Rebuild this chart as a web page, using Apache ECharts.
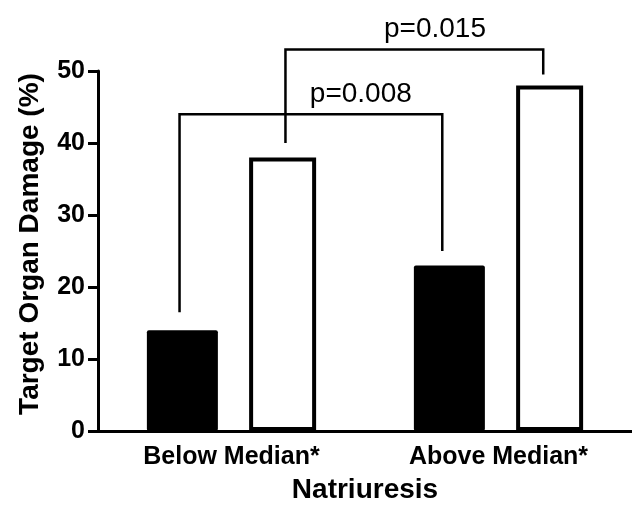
<!DOCTYPE html>
<html>
<head>
<meta charset="utf-8">
<script src="https://cdn.jsdelivr.net/npm/echarts@6/dist/echarts.min.js"></script>
<style>html,body{margin:0;padding:0;background:#fff}#c{width:632px;height:513px}</style>
</head>
<body>
<div id="c"></div>
<script>
// ---- data ----
const categories = ['Below Median*', 'Above Median*'];
const blackValues = [14, 23];
const whiteValues = [38, 48];
const yTicks = [0, 10, 20, 30, 40, 50];
// bracket ends: [category, series (0 black, 1 white), leg bottom value, position across bar (-0.5..0.5)]
const bracketFrom = [[0, 0, 16.5, -0.04], [0, 1, 40, 0.04]];
const bracketTo = [[1, 0, 25, -0.1], [1, 1, 49.5, -0.09]];
const bracketY = [44, 53];
const bracketLabels = ['p=0.008', 'p=0.015'];

// ---- style ----
const FONT = '"Liberation Sans", Arial, Helvetica, sans-serif';
const BLACK_W = 71, WHITE_W = 67, GAP = 0.44;
const WIDTHS = [BLACK_W, WHITE_W + 4];
const LABEL_FRAC = [0.69, 0.58];

// replicate ECharts bar offset layout to find bar centres relative to category centre
function barCenterOffsets() {
  const widths = [BLACK_W, WHITE_W];
  let sum = 0;
  widths.forEach(w => sum += w * (1 + GAP));
  sum -= widths[widths.length - 1] * GAP;
  let off = -sum / 2;
  const centers = [];
  widths.forEach(w => { centers.push(off + w / 2); off += w * (1 + GAP); });
  return centers;
}
const centers = barCenterOffsets();

const chart = echarts.init(document.getElementById('c'), null, {renderer: 'canvas'});
chart.setOption({
  animation: false,
  backgroundColor: '#fff',
  grid: {left: 98, right: 0, top: 71, bottom: 82},
  xAxis: {
    type: 'category',
    data: categories,
    name: 'Natriuresis',
    nameLocation: 'middle',
    nameGap: 45,
    nameTextStyle: {fontFamily: FONT, fontWeight: 'bold', fontSize: 28, color: '#000'},
    axisLine: {lineStyle: {color: '#000', width: 3}},
    axisTick: {alignWithLabel: true, length: 7, lineStyle: {color: '#000', width: 3}},
    axisLabel: {fontFamily: FONT, fontWeight: 'bold', fontSize: 25, color: '#000', margin: 14},
    splitLine: {show: false}
  },
  yAxis: {
    type: 'value',
    min: yTicks[0],
    max: yTicks[yTicks.length - 1],
    interval: 10,
    name: 'Target Organ Damage (%)',
    nameLocation: 'middle',
    nameGap: 54,
    nameTextStyle: {fontFamily: FONT, fontWeight: 'bold', fontSize: 28, color: '#000', padding: [0, 0, 0, 14]},
    axisLine: {show: true, lineStyle: {color: '#000', width: 3}},
    axisTick: {show: true, length: 10, lineStyle: {color: '#000', width: 3}},
    axisLabel: {fontFamily: FONT, fontWeight: 'bold', fontSize: 25, color: '#000', margin: 13},
    splitLine: {show: false}
  },
  series: [
    {
      type: 'bar', data: blackValues, barWidth: BLACK_W, barGap: (GAP * 100) + '%',
      itemStyle: {color: '#000', borderRadius: 2}
    },
    {
      type: 'bar', data: whiteValues, barWidth: WHITE_W,
      itemStyle: {color: '#fff', borderColor: '#000', borderWidth: 4}
    },
    {
      type: 'custom',
      data: bracketY.map((y, i) => [i, y]),
      clip: false,
      renderItem: function (params, api) {
        const i = api.value(0);
        const y = api.value(1);
        const f = bracketFrom[i], t = bracketTo[i];
        const x1 = api.coord([f[0], 0])[0] + centers[f[1]] + f[3] * WIDTHS[f[1]];
        const x2 = api.coord([t[0], 0])[0] + centers[t[1]] + t[3] * WIDTHS[t[1]];
        const yTop = api.coord([0, y])[1];
        const y1 = api.coord([0, f[2]])[1];
        const y2 = api.coord([0, t[2]])[1];
        const frac = LABEL_FRAC[i];
        return {
          type: 'group',
          children: [
            {type: 'polyline', shape: {points: [[x1, y1], [x1, yTop], [x2, yTop], [x2, y2]]},
             style: {stroke: '#000', lineWidth: 2.5, fill: null}},
            {type: 'text', x: x1 + (x2 - x1) * frac, y: yTop - 6,
             style: {text: bracketLabels[i], fontFamily: FONT, fontSize: 28, fill: '#000',
                     align: 'center', verticalAlign: 'bottom'}}
          ]
        };
      }
    }
  ]
});
</script>
</body>
</html>
